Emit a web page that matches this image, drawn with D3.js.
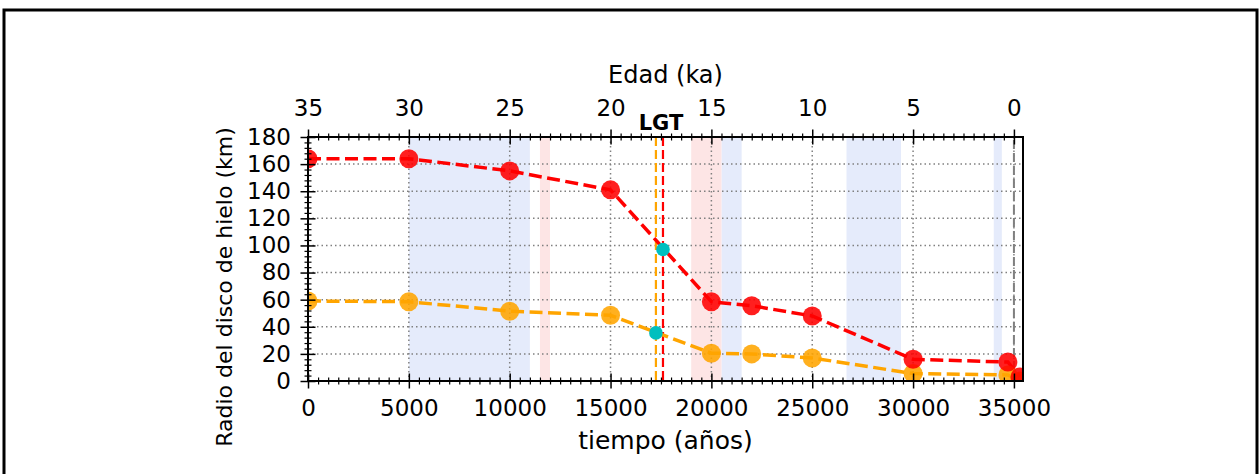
<!DOCTYPE html>
<html>
<head>
<meta charset="utf-8">
<script src="https://cdn.jsdelivr.net/npm/d3@7"></script>
<style>
  html, body { margin: 0; padding: 0; background: #fff; }
  svg { display: block; }
  text { font-family: "DejaVu Sans", sans-serif; fill: #000; }
</style>
</head>
<body>
<svg id="chart" width="1259" height="474"></svg>
<script>
// ---- data ----
const tiempo = [0, 5000, 10000, 15000, 20000, 22000, 25000, 30000, 34700, 35300];
const radioRojo = [164, 164, 155, 141, 58.5, 55.5, 48, 16, 14, 3];
const radioNaranja = [59, 58.5, 51.5, 48.5, 20.5, 20, 17, 5.5, 4.5, 0];
const lgtTiempo = [17600, 17250];
const lgtRadio = [97, 35.5];
const lgtColores = ["red", "orange"];
const bandasAzules = [[5000, 11000], [20500, 21500], [26700, 29400], [34000, 34400]];
const bandasRosas = [[11500, 12000], [19000, 20500]];
const xTicks = [0, 5000, 10000, 15000, 20000, 25000, 30000, 35000];
const yTicks = [0, 20, 40, 60, 80, 100, 120, 140, 160, 180];
const edadTicks = [35, 30, 25, 20, 15, 10, 5, 0];
const presente = 35000;

// ---- layout ----
const svg = d3.select("#chart");
const L = 308, R = 1023, T = 137, B = 381;
const x = d3.scaleLinear().domain([0, 35450]).range([L, R]);
const y = d3.scaleLinear().domain([0, 180]).range([B, T]);
const edad = d3.scaleLinear().domain([35, 35 - 35.45]).range([L, R]);

// outer frame
svg.append("rect").attr("x", 4).attr("y", 10).attr("width", 1253).attr("height", 480)
  .attr("fill", "none").attr("stroke", "#000").attr("stroke-width", 3);

svg.append("clipPath").attr("id", "clip").append("rect")
  .attr("x", L).attr("y", T).attr("width", R - L).attr("height", B - T);
const plot = svg.append("g").attr("clip-path", "url(#clip)");

// shaded bands
plot.selectAll("rect.azul").data(bandasAzules).join("rect").attr("class", "azul")
  .attr("x", d => x(d[0])).attr("width", d => x(d[1]) - x(d[0]))
  .attr("y", T).attr("height", B - T).attr("fill", "#e5ebfb");
plot.selectAll("rect.rosa").data(bandasRosas).join("rect").attr("class", "rosa")
  .attr("x", d => x(d[0])).attr("width", d => x(d[1]) - x(d[0]))
  .attr("y", T).attr("height", B - T).attr("fill", "#fde5e5");

// grid
const gridStyle = s => s.attr("stroke", "#808080").attr("stroke-width", 1.5).attr("stroke-dasharray", "1.5,3");
plot.selectAll("line.gx").data(xTicks).join("line").attr("class", "gx")
  .attr("x1", d => x(d)).attr("x2", d => x(d)).attr("y1", T).attr("y2", B).call(gridStyle);
plot.selectAll("line.gy").data(yTicks).join("line").attr("class", "gy")
  .attr("y1", d => y(d)).attr("y2", d => y(d)).attr("x1", L).attr("x2", R).call(gridStyle);

// present-day line
plot.append("line").attr("x1", x(presente)).attr("x2", x(presente)).attr("y1", T - 10).attr("y2", B + 10)
  .attr("stroke", "#808080").attr("stroke-width", 2).attr("stroke-dasharray", "9,4");

// LGT vertical lines
plot.selectAll("line.lgt").data(lgtTiempo).join("line").attr("class", "lgt")
  .attr("x1", d => x(d)).attr("x2", d => x(d)).attr("y1", T).attr("y2", B)
  .attr("stroke", (d, i) => lgtColores[i]).attr("stroke-width", 2.2).attr("stroke-dasharray", "9,4");

// series lines
const line = d3.line().x(d => x(d[0])).y(d => y(d[1]));
const serieRojo = tiempo.map((t, i) => [t, radioRojo[i]]);
const serieNaranja = tiempo.map((t, i) => [t, radioNaranja[i]]);
plot.append("path").datum(serieNaranja).attr("d", line).attr("fill", "none")
  .attr("stroke", "orange").attr("stroke-width", 3.5).attr("stroke-dasharray", "13,5.5");
plot.append("path").datum(serieRojo).attr("d", line).attr("fill", "none")
  .attr("stroke", "red").attr("stroke-width", 3.5).attr("stroke-dasharray", "13,5.5");

// markers
plot.selectAll("circle.n").data(serieNaranja).join("circle").attr("class", "n")
  .attr("cx", d => x(d[0])).attr("cy", d => y(d[1])).attr("r", 9.5)
  .attr("fill", "orange").attr("fill-opacity", 0.88);
plot.selectAll("circle.r").data(serieRojo).join("circle").attr("class", "r")
  .attr("cx", d => x(d[0])).attr("cy", d => y(d[1])).attr("r", 9.5)
  .attr("fill", "red").attr("fill-opacity", 0.88);
plot.selectAll("circle.c").data(lgtTiempo).join("circle").attr("class", "c")
  .attr("cx", d => x(d)).attr("cy", (d, i) => y(lgtRadio[i])).attr("r", 6.8)
  .attr("fill", "#00bfbf");

// axes
function inout(g, len) {
  g.selectAll(".tick line").attr("y1", -len / 2).attr("y2", len / 2).attr("stroke-width", 1.5);
}
function inoutY(g, len) {
  g.selectAll(".tick line").attr("x1", -len / 2).attr("x2", len / 2).attr("stroke-width", 1.5);
}
const minorX = d3.range(0, 35451, 500).filter(v => v % 5000 !== 0);
const minorAge = d3.range(35, -0.46, -0.5).filter(v => Math.abs(v % 5) > 1e-9);
const minorY = d3.range(0, 181, 4).filter(v => v % 20 !== 0);
const fs = "23px";

// bottom
const gb = svg.append("g").attr("transform", `translate(0,${B})`);
gb.append("g").call(d3.axisBottom(x).tickValues(minorX).tickFormat("").tickSize(0))
  .call(g => g.selectAll(".tick line").attr("y1", -3.5).attr("y2", 3.5).attr("stroke-width", 1.2))
  .call(g => g.select(".domain").remove());
gb.append("g").call(d3.axisBottom(x).tickValues(xTicks).tickFormat(d3.format("d")).tickSize(0).tickPadding(19))
  .call(g => inout(g, 15))
  .call(g => g.select(".domain").remove())
  .call(g => g.selectAll("text").style("font-size", fs).style("font-family", "DejaVu Sans"));

// top
const gt = svg.append("g").attr("transform", `translate(0,${T})`);
gt.append("g").call(d3.axisTop(edad).tickValues(minorAge).tickFormat("").tickSize(0))
  .call(g => g.selectAll(".tick line").attr("y1", -3.5).attr("y2", 3.5).attr("stroke-width", 1.2))
  .call(g => g.select(".domain").remove());
gt.append("g").call(d3.axisTop(edad).tickValues(edadTicks).tickFormat(d3.format("d")).tickSize(0).tickPadding(21))
  .call(g => inout(g, 15))
  .call(g => g.select(".domain").remove())
  .call(g => g.selectAll("text").style("font-size", fs).style("font-family", "DejaVu Sans"));

// left
const gl = svg.append("g").attr("transform", `translate(${L},0)`);
gl.append("g").call(d3.axisLeft(y).tickValues(minorY).tickFormat("").tickSize(0))
  .call(g => g.selectAll(".tick line").attr("x1", -3.5).attr("x2", 3.5).attr("stroke-width", 1.2))
  .call(g => g.select(".domain").remove());
gl.append("g").call(d3.axisLeft(y).tickValues(yTicks).tickFormat(d3.format("d")).tickSize(0).tickPadding(17))
  .call(g => inoutY(g, 15))
  .call(g => g.select(".domain").remove())
  .call(g => g.selectAll("text").style("font-size", fs).style("font-family", "DejaVu Sans"));

// plot frame
svg.append("rect").attr("x", L).attr("y", T).attr("width", R - L).attr("height", B - T)
  .attr("fill", "none").attr("stroke", "#000").attr("stroke-width", 2);

// labels
svg.append("text").attr("x", (L + R) / 2).attr("y", 449).attr("text-anchor", "middle")
  .style("font-size", "25px").text("tiempo (años)");
svg.append("text").attr("x", (L + R) / 2).attr("y", 83).attr("text-anchor", "middle")
  .style("font-size", "24px").text("Edad (ka)");
svg.append("text").attr("transform", `translate(232,287) rotate(-90)`)
  .attr("text-anchor", "middle").style("font-size", "22px").text("Radio del disco de hielo (km)");
svg.append("text").attr("x", x(17600) - 2).attr("y", 130).attr("text-anchor", "middle")
  .style("font-size", "21px").style("font-weight", "bold").text("LGT");
</script>
</body>
</html>
